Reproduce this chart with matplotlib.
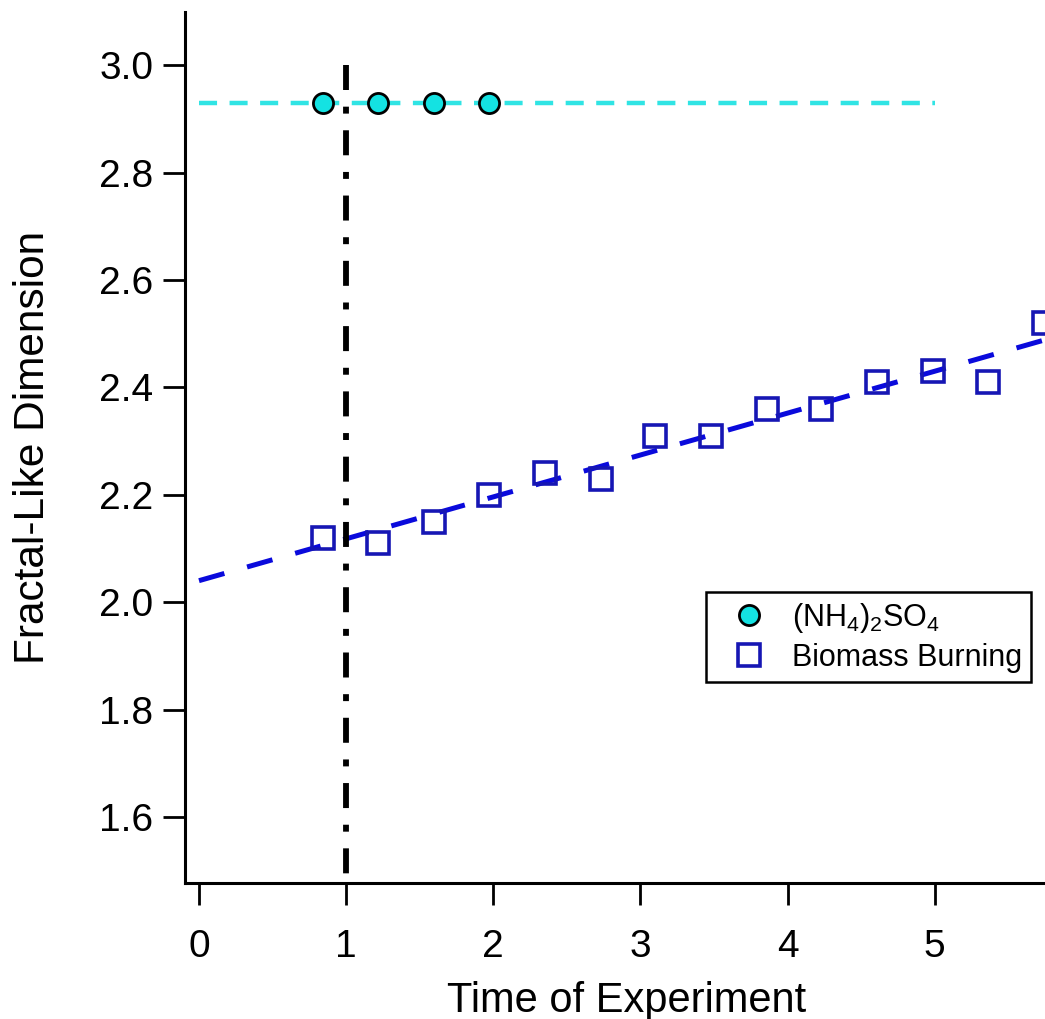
import numpy as np
import matplotlib.pyplot as plt

plt.rcParams['font.family'] = ['Liberation Sans', 'DejaVu Sans']
plt.rcParams['mathtext.default'] = 'regular'
plt.rcParams['lines.scale_dashes'] = False

# ammonium sulfate runs (constant Df) and biomass burning runs
salt_time = [0.84, 1.22, 1.60, 1.97]
salt_df = [2.93, 2.93, 2.93, 2.93]
salt_level = 2.93
salt_line_x = [0, 5]

bb_time = [0.84, 1.22, 1.60, 1.97, 2.35, 2.73, 3.10, 3.48, 3.86, 4.23, 4.61, 4.99, 5.36, 5.74]
bb_df = [2.12, 2.11, 2.15, 2.20, 2.24, 2.23, 2.31, 2.31, 2.36, 2.36, 2.41, 2.43, 2.41, 2.52]
fit_intercept = 2.04
fit_slope = 0.078

marker_time = 1.0
x_ticks = [0, 1, 2, 3, 4, 5]
y_ticks = [1.6, 1.8, 2.0, 2.2, 2.4, 2.6, 2.8, 3.0]

W, H = 1045, 1019
fig = plt.figure(figsize=(W / 100, H / 100), dpi=100)
ax = fig.add_axes([185 / W, 1 - 883 / H, 1 - 185 / W, (883 - 12) / H])
ax.set_xlim(-0.095, 5.75)
ax.set_ylim(1.477, 3.099)

# fit lines
ax.plot(salt_line_x, [salt_level, salt_level], color='#30E4E4', lw=3.2,
        linestyle=(0, (13, 9)), zorder=2)
fx = np.array([0, 6.0])
ax.plot(fx, fit_intercept + fit_slope * fx, color='#0A0ADC', lw=3.6,
        linestyle=(0, (19, 17)), zorder=2)

# start marker
ax.plot([marker_time, marker_time], [3.0, 1.477], color='black', lw=4.2,
        linestyle=(0, (18, 12, 5, 12)), zorder=3, clip_on=False)

ax.plot(salt_time, salt_df, 'o', ms=14.5, mfc='#14E2E2', mec='black', mew=2,
        label='(NH$_4$)$_2$SO$_4$', zorder=4)
ax.plot(bb_time, bb_df, 's', ms=15.5, mfc='none', mec='#1616B4', mew=2.6,
        label='Biomass Burning', zorder=4)

for s in ['top', 'right']:
    ax.spines[s].set_visible(False)
for s in ['left', 'bottom']:
    ax.spines[s].set_linewidth(2.2)

ax.set_xticks(x_ticks)
ax.set_yticks(y_ticks)
ax.set_yticklabels(['%.1f' % v for v in y_ticks])
ax.tick_params(axis='both', direction='out', length=16, width=2, labelsize=28)
ax.tick_params(axis='x', pad=17)
ax.tick_params(axis='y', pad=7)

ax.set_xlabel('Time of Experiment', fontsize=30)
ax.xaxis.set_label_coords((627 - 185) / (W - 185), -0.112)
ax.set_ylabel('Fractal-Like Dimension', fontsize=30.5, labelpad=33)

leg = fig.legend(loc='upper left', bbox_to_anchor=(706 / W, 1 - 592 / H),
                 fontsize=22, frameon=True, fancybox=False, framealpha=1,
                 edgecolor='black', handlelength=2.2, handletextpad=0.3,
                 borderpad=0.3, labelspacing=0.25, borderaxespad=0)
leg.get_frame().set_linewidth(1.8)

fig.savefig('out.png', dpi=100)
